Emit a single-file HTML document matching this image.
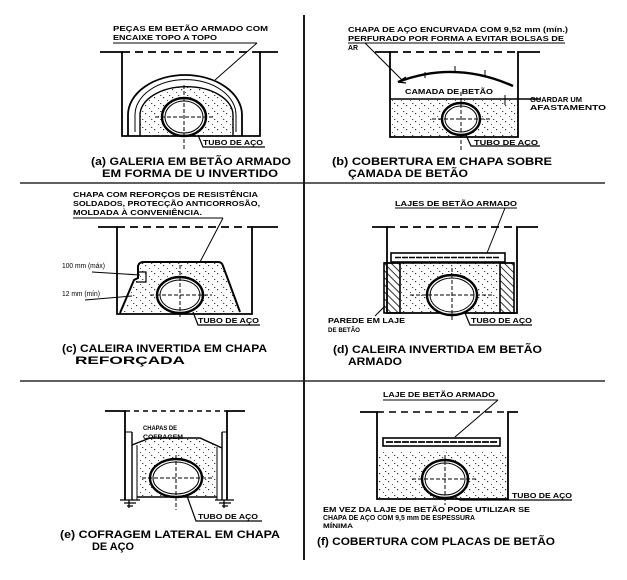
<!DOCTYPE html>
<html><head><meta charset="utf-8"><style>
html,body{margin:0;padding:0;background:#fff}
svg{display:block}
text{font-family:"Liberation Sans",Arial,sans-serif;font-weight:bold;fill:#000}
.s{font-size:7px}
.c{font-size:11px}
</style></head><body>
<svg width="627" height="580" viewBox="0 0 627 580" xmlns="http://www.w3.org/2000/svg">
<defs>
<pattern id="dots" width="9" height="8" patternUnits="userSpaceOnUse">
<rect x="1" y="1" width="1.2" height="1.2" fill="#333"/>
<rect x="5" y="4" width="1" height="1" fill="#555"/>
<rect x="7" y="7" width="1.3" height="1" fill="#444"/>
</pattern>
<pattern id="hatch" width="5" height="5" patternUnits="userSpaceOnUse" patternTransform="rotate(-45)">
<line x1="0" y1="0" x2="0" y2="5" stroke="#000" stroke-width="1.6"/>
</pattern>
</defs>
<g stroke="#000" fill="none" stroke-width="1.6">
<line x1="304" y1="15" x2="304" y2="560" stroke-width="1.8"/>
<line x1="20" y1="183" x2="303" y2="183" stroke-width="1.2"/>
<line x1="305" y1="183" x2="605" y2="183" stroke-width="1.2"/>
<line x1="20" y1="381" x2="303" y2="381" stroke-width="1.2"/>
<line x1="305" y1="381" x2="605" y2="381" stroke-width="1.2"/>

<polyline points="100,52 122,52 122,136 260,136 260,52 278,52" stroke-width="1.8"/>
<line x1="122" y1="52" x2="260" y2="52" stroke-dasharray="8,5" stroke-width="1.8"/>
<path d="M140,136 V115 A45,28 0 0 1 233,115 V136 Z" fill="url(#dots)" stroke="none"/>
<path d="M128,136 V115 A57,40 0 0 1 242,115 V136" stroke-width="1.8"/>
<path d="M135,132 V115 A50,35 0 0 1 236,115 V132" stroke-width="1"/>
<path d="M140,136 V115 A46,28 0 0 1 233,115 V136" stroke-width="1.4"/>
<ellipse cx="184" cy="117" rx="22" ry="19" fill="#fff" stroke-width="2.4"/>
<ellipse cx="184" cy="117" rx="19" ry="16" stroke-width="1"/>
<line x1="155" y1="117" x2="215" y2="117" stroke-dasharray="4,2" stroke-width="1"/>
<line x1="184" y1="85" x2="184" y2="150" stroke-dasharray="4,2" stroke-width="1"/>
<line x1="113" y1="43" x2="257" y2="43" stroke-width="1"/>
<line x1="257" y1="43" x2="215" y2="80" stroke-width="1"/>
<polyline points="198,135 203,147 265,147" stroke-width="1.2"/>

<polyline points="375,52 390,52 390,137 518,137 518,52 540,52" stroke-width="1.8"/>
<line x1="390" y1="52" x2="518" y2="52" stroke-dasharray="8,5" stroke-width="1.8"/>
<rect x="391" y="99" width="126" height="37" fill="url(#dots)" stroke="none"/>
<line x1="390" y1="99" x2="540" y2="99" stroke-width="1.4"/>
<path d="M398,82 Q455,60 513,86" stroke-width="2.4"/>
<path d="M398,82 l8,-5 M398,82 l8,1" stroke-width="1.2"/>
<line x1="425" y1="72" x2="425" y2="78" stroke-width="1"/>
<line x1="455" y1="66" x2="455" y2="72" stroke-width="1"/>
<line x1="485" y1="70" x2="485" y2="76" stroke-width="1"/>
<line x1="505" y1="95" x2="505" y2="105" stroke-width="1"/>
<ellipse cx="461" cy="119" rx="19" ry="16" fill="#fff" stroke-width="2.4"/>
<ellipse cx="461" cy="119" rx="16" ry="13" stroke-width="1"/>
<line x1="432" y1="119" x2="492" y2="119" stroke-dasharray="4,2" stroke-width="1"/>
<line x1="461" y1="92" x2="461" y2="150" stroke-dasharray="4,2" stroke-width="1"/>
<line x1="348" y1="43" x2="565" y2="43" stroke-width="1"/>
<line x1="365" y1="43" x2="402" y2="80" stroke-width="1"/>
<polyline points="466,135 471,146 540,146" stroke-width="1.2"/>

<polyline points="98,227 117,227 117,314 252,314 252,227 278,227" stroke-width="1.8"/>
<line x1="117" y1="227" x2="252" y2="227" stroke-dasharray="8,5" stroke-width="1.8"/>
<path d="M122,313 L136,280 L138,266 Q139,262 144,262 L218,262 Q222,262 223,266 L240,312 Z" fill="url(#dots)" stroke="none"/>
<path d="M120,313 L134,280 L138,278 L138,266 Q139,262 144,262 L218,262 Q222,262 223,266 L240,312" stroke-width="2"/>
<path d="M137,272 H146 V282 H136" stroke-width="1.2"/>
<ellipse cx="180" cy="295" rx="23" ry="18" fill="#fff" stroke-width="2.4"/>
<ellipse cx="180" cy="295" rx="20" ry="15" stroke-width="1"/>
<line x1="150" y1="295" x2="212" y2="295" stroke-dasharray="4,2" stroke-width="1"/>
<line x1="180" y1="265" x2="180" y2="318" stroke-dasharray="4,2" stroke-width="1"/>
<line x1="73" y1="218" x2="223" y2="218" stroke-width="1"/>
<line x1="223" y1="218" x2="200" y2="262" stroke-width="1"/>
<line x1="92" y1="272" x2="140" y2="275" stroke-width="1"/>
<line x1="85" y1="300" x2="132" y2="296" stroke-width="1"/>
<polyline points="193,312 198,325 260,325" stroke-width="1.2"/>

<polyline points="372,227 387,227 387,313 517,313 517,227 538,227" stroke-width="1.8"/>
<line x1="387" y1="227" x2="517" y2="227" stroke-dasharray="8,5" stroke-width="1.8"/>
<rect x="391" y="253" width="114" height="9" stroke-width="1.6"/>
<line x1="395" y1="257.5" x2="500" y2="257.5" stroke-width="1.6" stroke-dasharray="6,1"/>
<rect x="400" y="263" width="100" height="50" fill="url(#dots)" stroke="none"/>
<rect x="384" y="263" width="16" height="50" fill="url(#hatch)" stroke-width="1.6"/>
<rect x="500" y="263" width="14" height="50" fill="url(#hatch)" stroke-width="1.6"/>
<line x1="384" y1="263" x2="514" y2="263" stroke-width="1.6"/>
<ellipse cx="452" cy="295" rx="25" ry="20" fill="#fff" stroke-width="2.4"/>
<ellipse cx="452" cy="295" rx="22" ry="17" stroke-width="1"/>
<line x1="410" y1="295" x2="492" y2="295" stroke-dasharray="4,2" stroke-width="1"/>
<line x1="452" y1="268" x2="452" y2="322" stroke-dasharray="4,2" stroke-width="1"/>
<line x1="395" y1="208" x2="517" y2="208" stroke-width="1"/>
<line x1="505" y1="208" x2="487" y2="253" stroke-width="1"/>
<line x1="385" y1="306" x2="375" y2="316" stroke-width="1"/>
<polyline points="465,313 470,325 532,325" stroke-width="1.2"/>

<polyline points="105,411 125,411 125,500" stroke-width="1.8"/>
<polyline points="227,500 227,411 245,411" stroke-width="1.8"/>
<line x1="125" y1="411" x2="227" y2="411" stroke-dasharray="5,4" stroke-width="1.4"/>
<path d="M137,497 V445 L150,438 L200,438 L217,447 V497 Z" fill="url(#dots)" stroke="none"/>
<path d="M132,445 L150,438 L200,438 L222,448" stroke-width="1.4"/>
<line x1="132" y1="432" x2="132" y2="500" stroke-width="1.4"/>
<line x1="137" y1="445" x2="137" y2="500" stroke-width="1"/>
<line x1="222" y1="432" x2="222" y2="500" stroke-width="1.4"/>
<line x1="217" y1="447" x2="217" y2="500" stroke-width="1"/>
<line x1="125" y1="432" x2="132" y2="432" stroke-width="1"/>
<line x1="222" y1="432" x2="227" y2="432" stroke-width="1"/>
<line x1="137" y1="497" x2="217" y2="497" stroke-width="1.4"/>
<path d="M120,500 H140 M124,503 H136 M127,506 H133 M129,500 V508" stroke-width="1.3"/>
<path d="M215,500 H234 M219,503 H231 M222,506 H228 M224,500 V508" stroke-width="1.3"/>
<ellipse cx="176" cy="478" rx="26" ry="19" fill="#fff" stroke-width="2.4"/>
<ellipse cx="176" cy="478" rx="23" ry="16" stroke-width="1"/>
<line x1="142" y1="478" x2="212" y2="478" stroke-dasharray="4,2" stroke-width="1"/>
<line x1="176" y1="455" x2="176" y2="510" stroke-dasharray="4,2" stroke-width="1"/>
<polyline points="187,496 196,521 262,521" stroke-width="1.2"/>

<polyline points="360,412 377,412 377,499 508,499 508,412 518,412" stroke-width="1.8"/>
<line x1="377" y1="412" x2="508" y2="412" stroke-dasharray="7,5" stroke-width="1.6"/>
<rect x="383" y="438" width="117" height="8" stroke-width="1.6"/>
<line x1="386" y1="442" x2="497" y2="442" stroke-width="1.8" stroke-dasharray="7,1"/>
<rect x="378" y="451" width="129" height="47" fill="url(#dots)" stroke="none"/>
<ellipse cx="445" cy="479" rx="23" ry="19" fill="#fff" stroke-width="2.4"/>
<ellipse cx="445" cy="479" rx="20" ry="16" stroke-width="1"/>
<line x1="412" y1="479" x2="478" y2="479" stroke-dasharray="4,2" stroke-width="1"/>
<line x1="445" y1="455" x2="445" y2="505" stroke-dasharray="4,2" stroke-width="1"/>
<line x1="383" y1="400" x2="498" y2="400" stroke-width="1"/>
<line x1="498" y1="400" x2="455" y2="437" stroke-width="1"/>
<polyline points="455,497 460,500 572,500" stroke-width="1.2"/>
</g>

<text class="s" x="113" y="31" textLength="155" lengthAdjust="spacingAndGlyphs">PEÇAS EM BETÃO ARMADO COM</text>
<text class="s" x="113" y="40" textLength="104" lengthAdjust="spacingAndGlyphs">ENCAIXE TOPO A TOPO</text>
<text class="s" x="203" y="145" textLength="60" lengthAdjust="spacingAndGlyphs">TUBO DE AÇO</text>
<text class="c" x="91" y="165" textLength="200" lengthAdjust="spacingAndGlyphs">(a) GALERIA EM BETÃO ARMADO</text>
<text class="c" x="102" y="177" textLength="176" lengthAdjust="spacingAndGlyphs">EM FORMA DE U INVERTIDO</text>

<text class="s" x="348" y="32" textLength="220" lengthAdjust="spacingAndGlyphs">CHAPA DE AÇO ENCURVADA COM 9,52 mm (mín.)</text>
<text class="s" x="348" y="41" textLength="216" lengthAdjust="spacingAndGlyphs">PERFURADO POR FORMA A EVITAR BOLSAS DE</text>
<text class="s" x="348" y="50" textLength="10" lengthAdjust="spacingAndGlyphs">AR</text>
<text class="s" x="405" y="94" textLength="88" lengthAdjust="spacingAndGlyphs">CAMADA DE BETÃO</text>
<text class="s" x="530" y="102" textLength="52" lengthAdjust="spacingAndGlyphs">GUARDAR UM</text>
<text class="s" x="530" y="110" textLength="76" lengthAdjust="spacingAndGlyphs">AFASTAMENTO</text>
<text class="s" x="474" y="145" textLength="64" lengthAdjust="spacingAndGlyphs">TUBO DE AÇO</text>
<text class="c" x="332" y="165" textLength="220" lengthAdjust="spacingAndGlyphs">(b) COBERTURA EM CHAPA SOBRE</text>
<text class="c" x="348" y="177" textLength="120" lengthAdjust="spacingAndGlyphs">ÇAMADA DE BETÃO</text>

<text class="s" x="73" y="197" textLength="185" lengthAdjust="spacingAndGlyphs">CHAPA COM REFORÇOS DE RESISTÊNCIA</text>
<text class="s" x="73" y="206" textLength="187" lengthAdjust="spacingAndGlyphs">SOLDADOS, PROTECÇÃO ANTICORROSÃO,</text>
<text class="s" x="73" y="215" textLength="129" lengthAdjust="spacingAndGlyphs">MOLDADA À CONVENIÊNCIA.</text>
<text class="s" x="62" y="268" textLength="43" lengthAdjust="spacingAndGlyphs" style="font-weight:normal">100 mm (máx)</text>
<text class="s" x="62" y="296" textLength="38" lengthAdjust="spacingAndGlyphs" style="font-weight:normal">12 mm (mín)</text>
<text class="s" x="198" y="323" textLength="61" lengthAdjust="spacingAndGlyphs">TUBO DE AÇO</text>
<text class="c" x="62" y="352" textLength="205" lengthAdjust="spacingAndGlyphs">(c) CALEIRA INVERTIDA EM CHAPA</text>
<text class="c" x="75" y="364" textLength="110" lengthAdjust="spacingAndGlyphs">REFORÇADA</text>

<text class="s" x="395" y="206" textLength="122" lengthAdjust="spacingAndGlyphs">LAJES DE BETÃO ARMADO</text>
<text class="s" x="328" y="323" textLength="77" lengthAdjust="spacingAndGlyphs">PAREDE EM LAJE</text>
<text class="s" x="328" y="332" textLength="32" lengthAdjust="spacingAndGlyphs" style="font-size:6px">DE BETÃO</text>
<text class="s" x="471" y="323" textLength="61" lengthAdjust="spacingAndGlyphs">TUBO DE AÇO</text>
<text class="c" x="333" y="353" textLength="209" lengthAdjust="spacingAndGlyphs">(d) CALEIRA INVERTIDA EM BETÃO</text>
<text class="c" x="348" y="365" textLength="54" lengthAdjust="spacingAndGlyphs">ARMADO</text>

<text class="s" x="143" y="430" textLength="34" lengthAdjust="spacingAndGlyphs" style="font-size:6px">CHAPAS DE</text>
<text class="s" x="143" y="439" textLength="40" lengthAdjust="spacingAndGlyphs" style="font-size:6px">COFRAGEM</text>
<text class="s" x="198" y="519" textLength="60" lengthAdjust="spacingAndGlyphs">TUBO DE AÇO</text>
<text class="c" x="60" y="538" textLength="220" lengthAdjust="spacingAndGlyphs">(e) COFRAGEM LATERAL EM CHAPA</text>
<text class="c" x="92" y="550" textLength="42" lengthAdjust="spacingAndGlyphs">DE AÇO</text>

<text class="s" x="383" y="397" textLength="112" lengthAdjust="spacingAndGlyphs">LAJE DE BETÃO ARMADO</text>
<text class="s" x="512" y="498" textLength="60" lengthAdjust="spacingAndGlyphs">TUBO DE AÇO</text>
<text class="s" x="323" y="512" textLength="207" lengthAdjust="spacingAndGlyphs">EM VEZ DA LAJE DE BETÃO PODE UTILIZAR SE</text>
<text class="s" x="323" y="520" textLength="152" lengthAdjust="spacingAndGlyphs">CHAPA DE AÇO COM 9,5 mm DE ESPESSURA</text>
<text class="s" x="323" y="528" textLength="30" lengthAdjust="spacingAndGlyphs" style="font-size:6px">MÍNIMA</text>
<text class="c" x="317" y="545" textLength="238" lengthAdjust="spacingAndGlyphs">(f) COBERTURA COM PLACAS DE BETÃO</text>
</svg>
</body></html>
